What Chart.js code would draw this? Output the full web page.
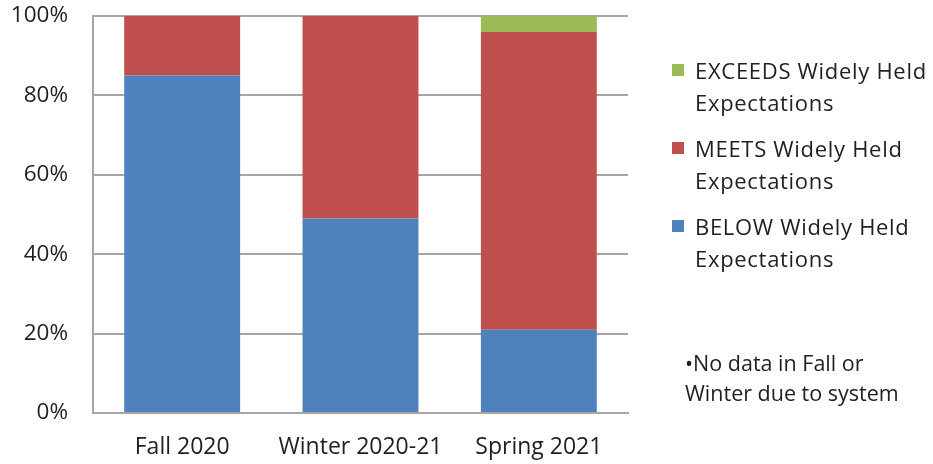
<!DOCTYPE html>
<html>
<head>
<meta charset="utf-8">
<script src="https://cdn.jsdelivr.net/npm/chart.js@4/dist/chart.umd.min.js"></script>
<style>
  body { margin: 0; background: #fff; }
  #wrap { position: relative; width: 933px; height: 464px; font-family: "Open Sans", sans-serif; color: #1f1f1f; }
  #legend { position: absolute; left: 672px; top: 54px; font-size: 22px; line-height: 32px; letter-spacing: 0.7px; }
  .item { position: relative; padding-left: 23px; margin-bottom: 14px; width: 250px; white-space: nowrap; }
  .box { position: absolute; left: 0; top: 10px; width: 12px; height: 12px; }
  #note { position: absolute; left: 685px; top: 348px; font-size: 21.5px; line-height: 30px; white-space: nowrap; }
</style>
</head>
<body>
<div id="wrap">
  <canvas id="c" width="933" height="464"></canvas>
  <div id="legend"></div>
  <div id="note">•No data in Fall or<br>Winter due to system</div>
</div>
<script>
const terms = ["Fall 2020", "Winter 2020-21", "Spring 2021"];
const below = [85, 49, 21];
const meets = [15, 51, 75];
const exceeds = [0, 0, 4];
const yTicks = [0, 20, 40, 60, 80, 100];

const legendLines = [
  ["EXCEEDS Widely Held", "Expectations"],
  ["MEETS Widely Held", "Expectations"],
  ["BELOW Widely Held", "Expectations"]
];

const datasets = [
  { label: "BELOW Widely Held Expectations", data: below, backgroundColor: "#4F81BD" },
  { label: "MEETS Widely Held Expectations", data: meets, backgroundColor: "#C0504D" },
  { label: "EXCEEDS Widely Held Expectations", data: exceeds, backgroundColor: "#9BBB59" }
];

// legend, top to bottom like the original
const leg = document.getElementById("legend");
[2, 1, 0].forEach((i, n) => {
  const d = document.createElement("div");
  d.className = "item";
  d.innerHTML = '<span class="box" style="background:' + datasets[i].backgroundColor + '"></span>' +
    legendLines[n].join("<br>");
  leg.appendChild(d);
});

new Chart(document.getElementById("c"), {
  type: "bar",
  data: { labels: terms, datasets: datasets },
  options: {
    responsive: false,
    animation: false,
    layout: { padding: { top: 16, right: 305, bottom: 0, left: 0 } },
    datasets: { bar: { barPercentage: 0.65, categoryPercentage: 1 } },
    plugins: { legend: { display: false }, tooltip: { enabled: false } },
    scales: {
      x: {
        stacked: true,
        grid: { display: false, drawTicks: false },
        border: { color: "#a6a6a6", width: 2 },
        ticks: { color: "#1f1f1f", font: { family: "Open Sans", size: 23 }, padding: 21 },
        afterFit: (s) => { s.height = 51; }
      },
      y: {
        stacked: true,
        min: 0,
        max: 100,
        afterBuildTicks: (s) => { s.ticks = yTicks.map(v => ({ value: v })); },
        grid: { color: "#a6a6a6", lineWidth: 2, drawTicks: false },
        border: { color: "#a6a6a6", width: 2 },
        ticks: {
          color: "#1f1f1f",
          font: { family: "Open Sans", size: 22.5 },
          padding: 25,
          callback: (v) => v + "%"
        },
        afterFit: (s) => {
          s.width = 93;
          s.paddingTop = 0;
          s.paddingBottom = 0;
        }
      }
    }
  }
});
</script>
</body>
</html>
